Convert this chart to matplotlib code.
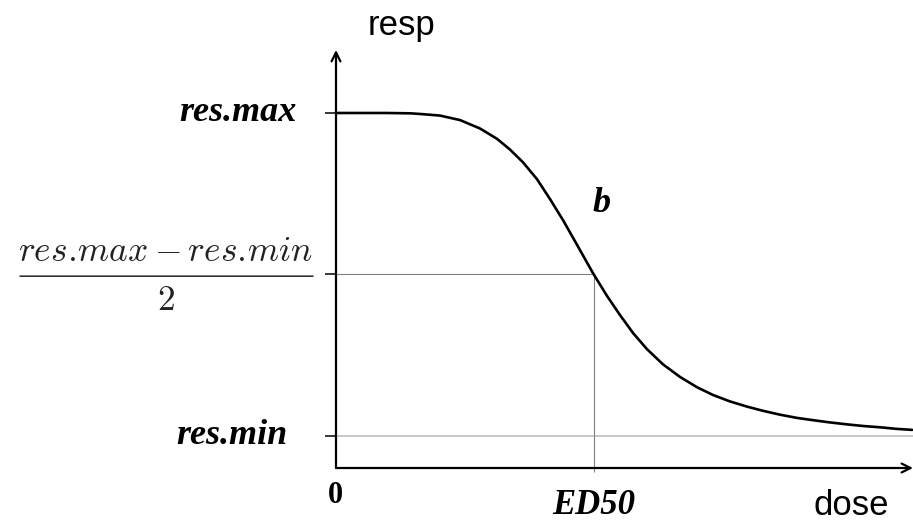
# Dose-response curve (log-logistic) schematic

import matplotlib
matplotlib.use("Agg")
import matplotlib.pyplot as plt
from matplotlib.transforms import offset_copy

# ----------------------------
# Data
# ----------------------------
dose = [0.000, 0.093, 0.194, 0.287, 0.326, 0.403, 0.481, 0.558, 0.624, 0.674,
        0.725, 0.779, 0.829, 0.880, 0.934, 0.996, 1.050, 1.101, 1.151, 1.205,
        1.267, 1.333, 1.399, 1.461, 1.527, 1.593, 1.655, 1.721, 1.787, 1.849,
        1.915, 1.981, 2.043, 2.109, 2.174, 2.233]
resp = [1.099, 1.099, 1.099, 1.098, 1.096, 1.091, 1.077, 1.051, 1.019, 0.986,
        0.946, 0.894, 0.833, 0.767, 0.691, 0.603, 0.533, 0.473, 0.418, 0.368,
        0.321, 0.282, 0.250, 0.226, 0.206, 0.190, 0.177, 0.165, 0.155, 0.148,
        0.141, 0.135, 0.130, 0.126, 0.121, 0.118]

res_max = 1.1
res_min = 0.1
res_mid = 0.6
ed50 = 1.0

x_max = 2.236
y_max = 1.294

serif_bi = dict(family="Liberation Serif", weight="bold", style="italic")
plt.rcParams["mathtext.fontset"] = "cm"

# ----------------------------
# Figure / axes
# ----------------------------
fig = plt.figure(figsize=(9.13, 5.22), dpi=100)
ax = fig.add_axes([336 / 913, 54 / 522, 577 / 913, 418 / 522])
ax.set_xlim(0, x_max)
ax.set_ylim(0, y_max)
for s in ax.spines.values():
    s.set_visible(False)

# axis arrows
ax.annotate("", xy=(1, 0), xytext=(0, 0), xycoords="axes fraction",
            arrowprops=dict(arrowstyle="->", lw=1.6, color="black",
                            mutation_scale=16, shrinkA=0, shrinkB=0))
ax.annotate("", xy=(0, 1), xytext=(0, 0), xycoords="axes fraction",
            arrowprops=dict(arrowstyle="->", lw=1.6, color="black",
                            mutation_scale=16, shrinkA=0, shrinkB=0))

# reference lines
ax.plot([0, x_max], [res_min, res_min], color="#c4c4c4", lw=1.3, clip_on=False)
ax.plot([0, ed50], [res_mid, res_mid], color="#808080", lw=0.8)
ax.plot([ed50, ed50], [0, res_mid], color="#808080", lw=0.8)

# curve
ax.plot(dose, resp, color="black", lw=1.9, clip_on=False,
        solid_capstyle="round", solid_joinstyle="round")

# ticks
ax.set_yticks([res_min, res_mid, res_max])
ax.set_yticklabels([])
ax.tick_params(axis="y", length=8, width=1.1, color="black", direction="out")
ax.set_xticks([ed50])
ax.set_xticklabels([])
ax.tick_params(axis="x", length=3, width=0.8, color="#808080", direction="out")

# y labels
ax.annotate("res.max", xy=(0, res_max), xytext=(-39, 0), textcoords="offset pixels",
            ha="right", va="center", fontsize=26, **serif_bi)
ax.annotate("res.min", xy=(0, res_min), xytext=(-48, 0), textcoords="offset pixels",
            ha="right", va="center", fontsize=26, **serif_bi)

# (res.max - res.min) / 2 drawn as a stacked fraction
frac_color = "#222222"
ax.annotate(r"$res.\!max - res.\!min$", xy=(0, res_mid), xytext=(-170, 13),
            textcoords="offset pixels", ha="center", va="baseline",
            fontsize=25.5, color=frac_color)
ax.annotate(r"$2$", xy=(0, res_mid), xytext=(-170, -36),
            textcoords="offset pixels", ha="center", va="baseline",
            fontsize=25.5, color=frac_color)
ax.annotate("", xy=(0, res_mid),
            xycoords=offset_copy(ax.transData, fig=fig, x=-23, y=-2, units="dots"),
            xytext=(0, res_mid),
            textcoords=offset_copy(ax.transData, fig=fig, x=-316, y=-2, units="dots"),
            arrowprops=dict(arrowstyle="-", lw=1.1, color=frac_color,
                            shrinkA=0, shrinkB=0))

# x labels
ax.annotate("0", xy=(0, 0), xytext=(-1, -13), textcoords="offset pixels",
            ha="center", va="top", fontsize=22, family="Liberation Serif",
            weight="bold")
ax.annotate("ED50", xy=(ed50, 0), xytext=(0, -46), textcoords="offset pixels",
            ha="center", va="baseline", fontsize=25, **serif_bi)
ax.annotate("b", xy=(1.031, 0.82), ha="center", va="center", fontsize=26, **serif_bi)

# axis titles
ax.annotate("dose", xy=(515 / 577, 0), xycoords="axes fraction", xytext=(0, -47),
            textcoords="offset pixels", ha="center", va="baseline", fontsize=25,
            family="Liberation Sans")
ax.annotate("resp", xy=(66 / 577, 1), xycoords="axes fraction", xytext=(0, 15),
            textcoords="offset pixels", ha="center", va="baseline", fontsize=25,
            family="Liberation Sans")

fig.savefig("out.png", dpi=100)
